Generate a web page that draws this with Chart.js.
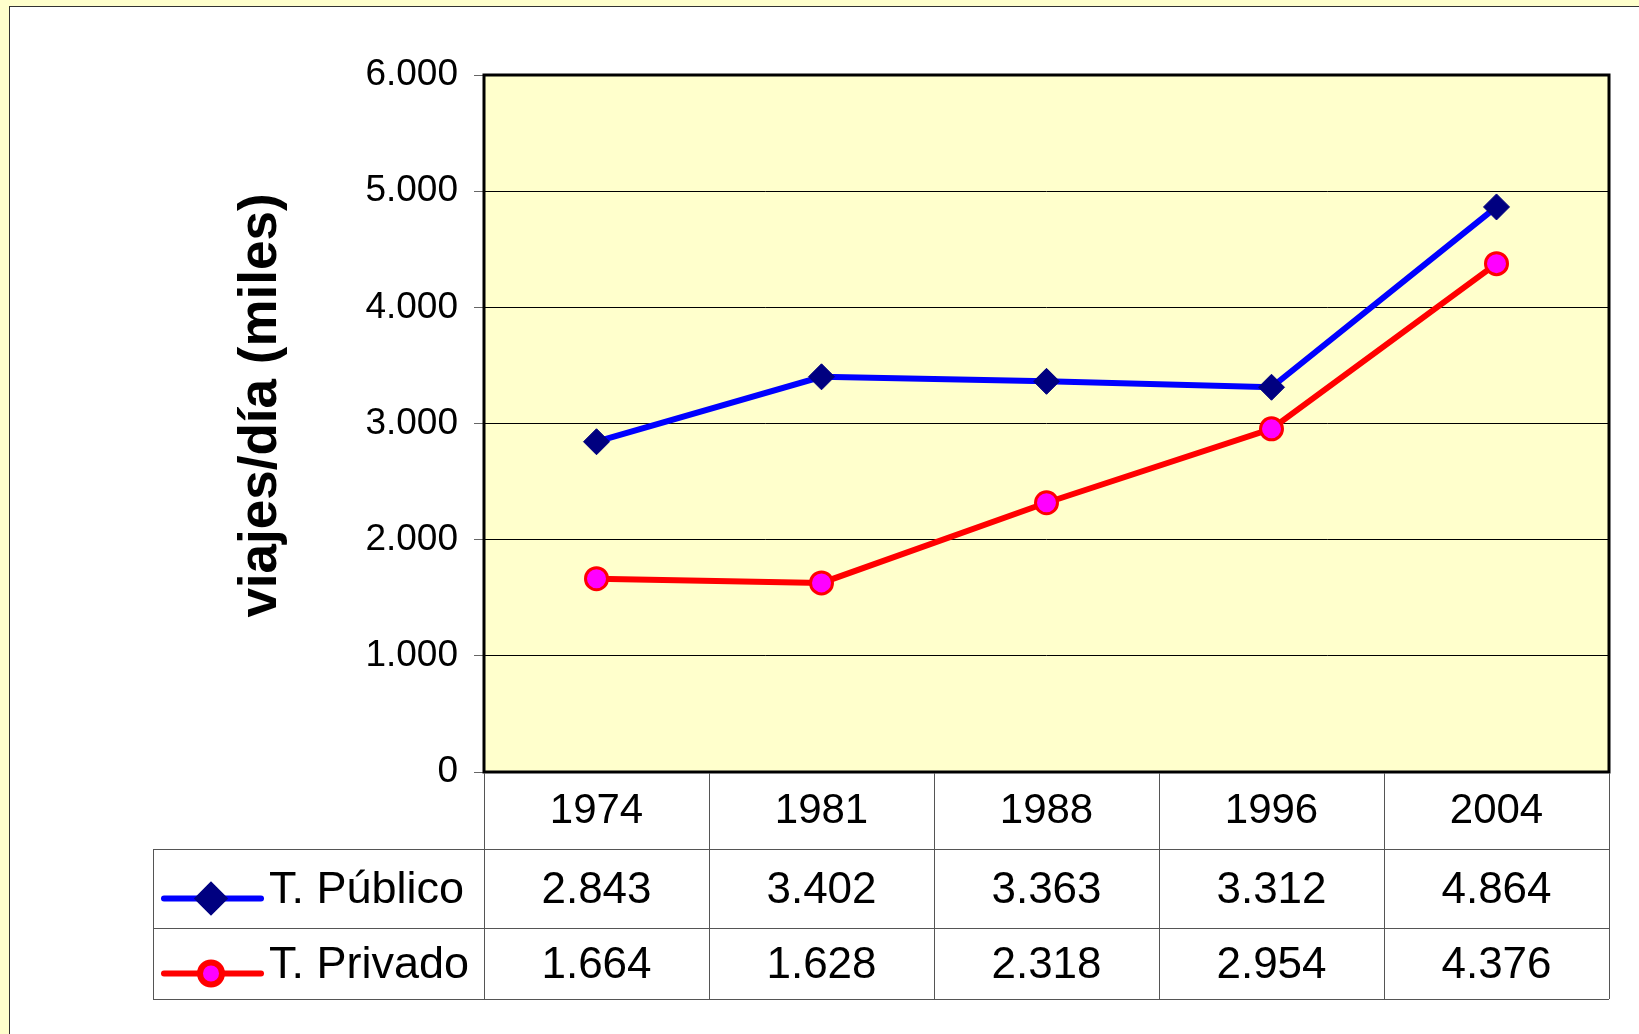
<!DOCTYPE html>
<html>
<head>
<meta charset="utf-8">
<script src="https://cdn.jsdelivr.net/npm/chart.js@4.4.1/dist/chart.umd.min.js"></script>
<style>
  html, body { margin: 0; padding: 0; overflow: hidden; background: #ffffcc; }
  canvas { display: block; }
</style>
</head>
<body>
<canvas id="chart" width="1639" height="1034"></canvas>
<script>
// data
const years = ["1974", "1981", "1988", "1996", "2004"];
const publico = [2843, 3402, 3363, 3312, 4864];
const privado = [1664, 1628, 2318, 2954, 4376];
const seriesNames = ["T. Público", "T. Privado"];
const yTitle = "viajes/día (miles)";
const yMax = 6000;
const yStep = 1000;

const FONT = "'Liberation Sans', Arial, sans-serif";

// 2843 -> "2.843"
const fmt = (v) => String(v).replace(/\B(?=(\d{3})+(?!\d))/g, ".");

// yellow page with the white box behind the chart
const background = {
  id: "background",
  beforeDraw(chart) {
    const ctx = chart.ctx;
    ctx.save();
    ctx.fillStyle = "#ffffcc";
    ctx.fillRect(0, 0, chart.width, chart.height);
    ctx.fillStyle = "#ffffff";
    ctx.fillRect(10, 7, chart.width, chart.height);
    ctx.strokeStyle = "#333333";
    ctx.lineWidth = 1;
    ctx.strokeRect(9.5, 6.5, chart.width + 10, chart.height + 10);
    // plot area fill
    const a = chart.chartArea;
    ctx.fillStyle = "#ffffcc";
    ctx.fillRect(a.left, a.top, a.right - a.left, a.bottom - a.top);
    ctx.restore();
  },
};

// frame round the plot, the axis title and the data table under it
const dataTable = {
  id: "dataTable",
  afterDraw(chart) {
    const ctx = chart.ctx;
    const a = chart.chartArea;
    const xs = chart.scales.x;
    const half = (xs.getPixelForValue(1) - xs.getPixelForValue(0)) / 2;

    ctx.save();
    ctx.strokeStyle = "#000";
    ctx.lineWidth = 3;
    ctx.strokeRect(a.left, a.top, a.right - a.left, a.bottom - a.top);

    // y axis title (sits a bit above the middle of the axis in the original)
    ctx.save();
    ctx.translate(261, (a.top + a.bottom) / 2 - 18);
    ctx.rotate(-Math.PI / 2);
    ctx.fillStyle = "#000";
    ctx.font = "bold 53px " + FONT;
    ctx.textAlign = "center";
    ctx.textBaseline = "middle";
    ctx.fillText(yTitle, 0, 0);
    ctx.restore();

    const headBottom = a.bottom + 77;
    const row1Bottom = headBottom + 79;
    const row2Bottom = row1Bottom + 71;
    const tableLeft = 153;

    ctx.lineWidth = 1;
    ctx.strokeStyle = "#555";
    ctx.beginPath();
    for (let i = 0; i <= years.length; i++) {
      const bx = Math.round(xs.getPixelForValue(i) - half) + 0.5;
      ctx.moveTo(bx, a.bottom + 1);
      ctx.lineTo(bx, row2Bottom);
    }
    ctx.moveTo(tableLeft + 0.5, headBottom);
    ctx.lineTo(tableLeft + 0.5, row2Bottom);
    [headBottom, row1Bottom, row2Bottom].forEach((y) => {
      ctx.moveTo(tableLeft, y + 0.5);
      ctx.lineTo(a.right, y + 0.5);
    });
    ctx.stroke();

    ctx.fillStyle = "#000";
    ctx.textAlign = "center";
    ctx.textBaseline = "middle";
    ctx.font = "42px " + FONT;
    years.forEach((yr, i) => {
      ctx.fillText(yr, xs.getPixelForValue(i), (a.bottom + headBottom) / 2 + 1);
    });
    const rows = [
      [headBottom, row1Bottom],
      [row1Bottom, row2Bottom],
    ];
    chart.data.datasets.forEach((ds, d) => {
      const cy = (rows[d][0] + rows[d][1]) / 2 + 2;
      ctx.font = "44px " + FONT;
      ds.data.forEach((v, i) => {
        ctx.fillText(fmt(v), xs.getPixelForValue(i), cy);
      });
      // legend key
      const ly = cy + 8;
      ctx.strokeStyle = ds.borderColor;
      ctx.lineWidth = 6;
      ctx.lineCap = "round";
      ctx.beginPath();
      ctx.moveTo(tableLeft + 11, ly);
      ctx.lineTo(tableLeft + 108, ly);
      ctx.stroke();
      ctx.fillStyle = ds.pointBackgroundColor;
      ctx.strokeStyle = ds.pointBorderColor;
      Chart.helpers.drawPoint(ctx, {
        pointStyle: ds.pointStyle,
        radius: ds.pointRadius,
        borderWidth: ds.pointBorderWidth,
        rotation: 0,
      }, tableLeft + 58, ly);
      ctx.fillStyle = "#000";
      ctx.textAlign = "left";
      ctx.font = "45px " + FONT;
      ctx.fillText(seriesNames[d], tableLeft + 116, cy);
      ctx.textAlign = "center";
    });
    ctx.restore();
  },
};

new Chart(document.getElementById("chart"), {
  type: "line",
  data: {
    labels: years,
    datasets: [
      {
        label: seriesNames[0],
        data: publico,
        borderColor: "#0000ff",
        borderWidth: 6,
        pointStyle: "rectRot",
        pointRadius: 13,
        pointBackgroundColor: "#000080",
        pointBorderColor: "#000080",
        pointBorderWidth: 1,
        tension: 0,
      },
      {
        label: seriesNames[1],
        data: privado,
        borderColor: "#ff0000",
        borderWidth: 6,
        pointStyle: "circle",
        pointRadius: 11,
        pointBackgroundColor: "#ff00ff",
        pointBorderColor: "#ff0000",
        pointBorderWidth: 3,
        tension: 0,
      },
    ],
  },
  options: {
    responsive: false,
    animation: false,
    layout: { padding: { left: 0, top: 75, right: 30, bottom: 262 } },
    plugins: {
      legend: { display: false },
      tooltip: { enabled: false },
    },
    scales: {
      x: {
        type: "category",
        offset: true,
        display: false,
      },
      y: {
        min: 0,
        max: yMax,
        afterFit(scale) {
          scale.width = 484;
        },
        ticks: {
          stepSize: yStep,
          color: "#000",
          padding: 16,
          font: { family: FONT, size: 37 },
          callback: (v) => fmt(v),
        },
        grid: {
          color: "#000",
          lineWidth: 1,
          tickColor: "#666",
          tickLength: 10,
        },
        border: { display: false },
      },
    },
  },
  plugins: [background, dataTable],
});
</script>
</body>
</html>
